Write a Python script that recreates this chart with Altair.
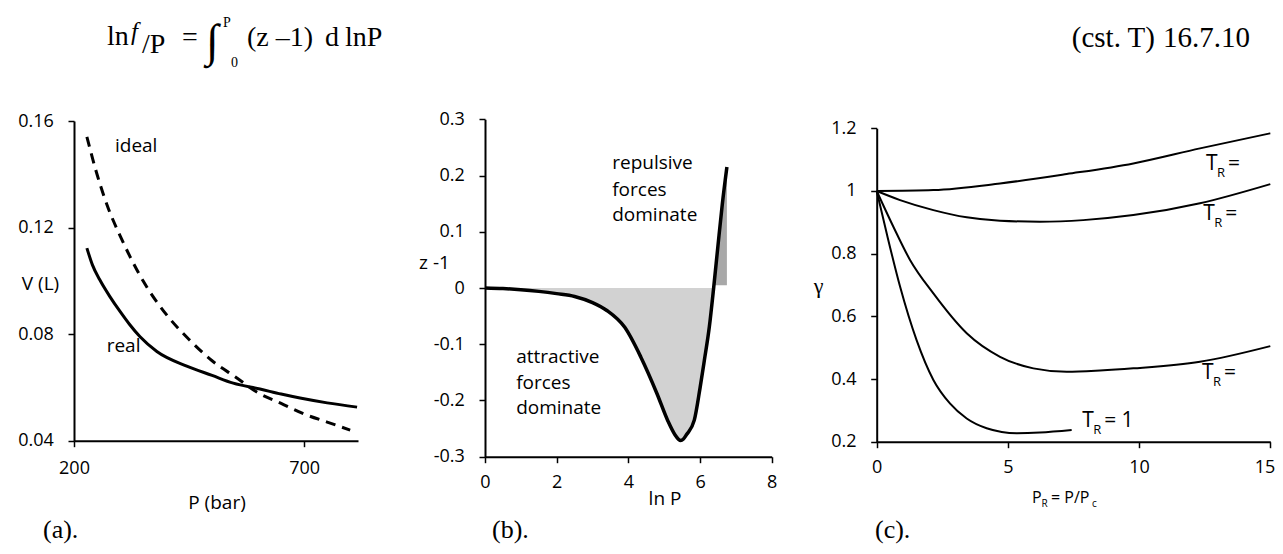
import altair as alt
import pandas as pd

# ---------------- data ----------------
# (a) V vs P
ideal_P = [228, 250, 275, 300, 350, 400, 450, 500, 550, 600, 650, 700, 750, 800]
ideal_V = [0.154, 0.140, 0.127, 0.117, 0.100, 0.0875, 0.078, 0.070, 0.064, 0.058, 0.054, 0.050, 0.047, 0.044]
real_P = [228, 240, 256, 278, 300, 320, 343, 380, 445, 500, 546, 604, 650, 691, 750, 815]
real_V = [0.1123, 0.106, 0.1004, 0.0941, 0.0885, 0.0838, 0.0791, 0.0735, 0.068, 0.0645,
          0.0616, 0.0594, 0.0575, 0.056, 0.0542, 0.0526]
lab_a_text = ["ideal", "real"]
lab_a_P = [289, 271]
lab_a_V = [0.1506, 0.0754]

# (b) z-1 vs ln P
lnP = [0, 0.5, 1.0, 1.5, 2.0, 2.5, 3.0, 3.4, 3.9, 4.35, 4.8, 5.1, 5.3, 5.4, 5.46, 5.53, 5.62, 5.84,
       6.0, 6.12, 6.26, 6.38, 6.5, 6.62, 6.75]
z_minus_1 = [0, -0.001, -0.003, -0.006, -0.010, -0.015, -0.026, -0.040, -0.070, -0.123,
             -0.188, -0.236, -0.261, -0.269, -0.271, -0.269, -0.261, -0.235, -0.178, -0.129,
             -0.069, 0.0, 0.075, 0.148, 0.215]
zero_cross = 6.38
lab_b_text = ["repulsive", "forces", "dominate", "attractive", "forces", "dominate"]
lab_b_x = [3.55, 3.55, 3.55, 0.87, 0.87, 0.87]
lab_b_y = [0.222, 0.174, 0.130, -0.123, -0.169, -0.214]

# (c) fugacity coefficient vs reduced pressure
c1_PR = [0, 2.16, 4.7, 7.24, 9.78, 12.32, 15]
c1_g = [1.0, 1.003, 1.024, 1.054, 1.088, 1.136, 1.184]
c2_PR = [0, 0.89, 2.16, 3.43, 4.7, 6.22, 7.87, 9.78, 12.32, 15]
c2_g = [1.0, 0.971, 0.939, 0.916, 0.905, 0.902, 0.907, 0.923, 0.961, 1.022]
c3_PR = [0, 0.635, 1.27, 2.16, 3.43, 4.7, 5.97, 7.24, 8.51, 9.78, 12.32, 15]
c3_g = [1.0, 0.886, 0.78, 0.673, 0.546, 0.471, 0.434, 0.423, 0.427, 0.434, 0.455, 0.505]
c4_PR = [0, 0.38, 0.89, 1.52, 2.16, 2.79, 3.43, 4.19, 5.34, 6.22, 7.43]
c4_g = [1.0, 0.865, 0.695, 0.524, 0.397, 0.322, 0.274, 0.243, 0.227, 0.229, 0.237]
tr_PR = [12.55, 12.44, 12.40, 7.83]
tr_g = [1.086, 0.925, 0.419, 0.266]
tr_rest = ["=", "=", "=", "= 1"]

# ---------------- tables ----------------
df_ideal = pd.DataFrame({"P": ideal_P, "V": ideal_V})
df_real = pd.DataFrame({"P": real_P, "V": real_V})
df_lab_a = pd.DataFrame({"P": lab_a_P, "V": lab_a_V, "label": lab_a_text})

df_b = pd.DataFrame({"lnP": lnP, "z1": z_minus_1})
df_b_neg = df_b[df_b["lnP"] <= zero_cross]
df_b_pos = df_b[df_b["lnP"] >= zero_cross]
df_lab_b = pd.DataFrame({"lnP": lab_b_x, "z1": lab_b_y, "label": lab_b_text})

rows = []
for sid, (xs, ys) in enumerate([(c1_PR, c1_g), (c2_PR, c2_g), (c3_PR, c3_g), (c4_PR, c4_g)]):
    for x, y in zip(xs, ys):
        rows.append({"PR": x, "gamma": y, "series": sid})
df_c = pd.DataFrame(rows)
df_tr = pd.DataFrame({"PR": tr_PR, "gamma": tr_g, "rest": tr_rest})

W, H = 1267, 538
FONT = "Open Sans"
SERIF = "Liberation Serif"

title_common = dict(titleAngle=0, titleAlign="center", titleBaseline="middle")

# ---------------- panel (a) ----------------
xa = alt.X("P:Q",
           scale=alt.Scale(domain=[200, 817], range=[66, 350], nice=False, zero=False),
           axis=alt.Axis(orient="bottom", offset=432.7 - H, values=[200, 700], format="d",
                         labelBaseline="middle", labelPadding=22,
                         title="P (bar)", titleX=208.5, titleY=61.3, **title_common))
ya = alt.Y("V:Q",
           scale=alt.Scale(domain=[0.04, 0.16], range=[432.7, 113], nice=False, zero=False),
           axis=alt.Axis(orient="left", offset=-66, values=[0.04, 0.08, 0.12, 0.16], format=".2f",
                         labelPadding=14.7,
                         title="V (L)", titleX=-34, titleY=275, **title_common))

a_ideal = alt.Chart(df_ideal).mark_line(color="black", strokeWidth=3, strokeDash=[10, 7],
                                         interpolate="monotone").encode(x=xa, y=ya)
a_real = alt.Chart(df_real).mark_line(color="black", strokeWidth=3,
                                       interpolate="monotone").encode(x=xa, y=ya)
a_lab = alt.Chart(df_lab_a).mark_text(align="left", baseline="middle", font=FONT, fontSize=19,
                                       color="black").encode(x=xa, y=ya, text="label:N")
panel_a = alt.layer(a_ideal, a_real, a_lab)

# ---------------- panel (b) ----------------
xb = alt.X("lnP:Q",
           scale=alt.Scale(domain=[0, 8], range=[477, 763.7], nice=False, zero=False),
           axis=alt.Axis(orient="bottom", offset=448.7 - H, values=[0, 2, 4, 6, 8], format="d",
                         labelBaseline="middle", labelPadding=20,
                         title="ln P", titleX=656.5, titleY=41.3, **title_common))
yb = alt.Y("z1:Q",
           scale=alt.Scale(domain=[-0.3, 0.3], range=[448.7, 111.3], nice=False, zero=False),
           axis=alt.Axis(orient="left", offset=-477,
                         values=[-0.3, -0.2, -0.1, 0, 0.1, 0.2, 0.3],
                         labelExpr="datum.value == 0 ? '0' : replace(format(datum.value, '.1f'), '\u2212', '-')",
                         labelPadding=14.7,
                         title="z -1", titleX=-51, titleY=254, **title_common))

b_neg = alt.Chart(df_b_neg).mark_area(color="#d2d2d2", interpolate="monotone").encode(
    x=xb, y=yb, y2=alt.datum(0))
b_pos = alt.Chart(df_b_pos).mark_area(color="#a8a8a8", interpolate="monotone").encode(
    x=xb, y=yb, y2=alt.datum(0.005))
b_line = alt.Chart(df_b).mark_line(color="black", strokeWidth=3.5, interpolate="monotone").encode(
    x=xb, y=yb)
b_lab = alt.Chart(df_lab_b).mark_text(align="left", baseline="middle", font=FONT, fontSize=19,
                                       color="black").encode(x=xb, y=yb, text="label:N")
panel_b = alt.layer(b_neg, b_pos, b_line, b_lab)

# ---------------- panel (c) ----------------
xc = alt.X("PR:Q",
           scale=alt.Scale(domain=[0, 15], range=[868.7, 1262.3], nice=False, zero=False),
           axis=alt.Axis(orient="bottom", offset=433.7 - H, values=[0, 5, 10, 15], format="d",
                         labelBaseline="middle", labelPadding=20, title=None,
                         labelAlign={"condition": {"test": "datum.value == 15", "value": "right"},
                                     "value": "center"},
                         labelOffset={"condition": {"test": "datum.value == 15", "value": 4.5},
                                      "value": 0}))
yc = alt.Y("gamma:Q",
           scale=alt.Scale(domain=[0.2, 1.2], range=[433.7, 120.3], nice=False, zero=False),
           axis=alt.Axis(orient="left", offset=-868.7, values=[0.2, 0.4, 0.6, 0.8, 1.0, 1.2],
                         format=".2~f", labelPadding=14.7,
                         title="\u03b3", titleX=-58.7, titleY=277, titleFont=SERIF,
                         titleFontSize=22, **title_common))

c_lines = alt.Chart(df_c).mark_line(color="black", strokeWidth=2, interpolate="monotone").encode(
    x=xc, y=yc, detail="series:N")
c_T = alt.Chart(df_tr).mark_text(align="left", baseline="middle", font=FONT, fontSize=21,
                                  color="black", text="T").encode(x=xc, y=yc)
c_R = alt.Chart(df_tr).mark_text(align="left", baseline="middle", font=FONT, fontSize=13,
                                  color="black", text="R", dx=11, dy=9).encode(x=xc, y=yc)
c_rest = alt.Chart(df_tr).mark_text(align="left", baseline="middle", font=FONT, fontSize=21,
                                     color="black", dx=22).encode(x=xc, y=yc, text="rest:N")
panel_c = alt.layer(c_lines, c_T, c_R, c_rest)

# ---------------- decorations: formula, panel letters, x title of (c) ----------------
one = pd.DataFrame({"k": [0]})


def txt(s, x, y, size, font=SERIF, align="left", baseline="alphabetic", style="normal"):
    return alt.Chart(one).mark_text(text=s, align=align, baseline=baseline, font=font,
                                    fontSize=size, fontStyle=style, color="black").encode(
        x=alt.value(x), y=alt.value(y))


decor = [
    txt("ln", 99, 37, 28),
    txt("f", 123, 32, 25, style="italic"),
    txt("/P", 134, 45, 28),
    txt("=", 174, 38, 28),
    txt("\u222b", 198, 48, 46),
    txt("P", 215, 19, 14),
    txt("0", 223, 59, 14),
    txt("(z \u20131)", 239, 38, 28),
    txt("d", 317, 38, 28),
    txt("lnP", 337, 38, 28),
    txt("(cst. T)", 1147, 39, 29, align="right"),
    txt("16.7.10", 1155, 39, 29),
    txt("(a).", 35, 530, 26),
    txt("(b).", 484, 530, 26),
    txt("(c).", 867, 530, 26),
    txt("P", 1024, 490, 16, font=FONT, baseline="middle"),
    txt("R", 1033.5, 496, 10, font=FONT, baseline="middle"),
    txt("= P/P", 1043, 490, 16, font=FONT, baseline="middle"),
    txt("c", 1084, 496, 10, font=FONT, baseline="middle"),
]

chart = alt.layer(panel_a, panel_b, panel_c, *decor).resolve_scale(
    x="independent", y="independent"
).properties(
    width=W, height=H, autosize=alt.AutoSizeParams(type="none"), padding=0
).configure_view(stroke=None).configure_axis(
    grid=False, domainColor="black", domainWidth=2, tickColor="black", tickWidth=1.5,
    tickSize=6, labelFont=FONT, labelFontSize=18, labelColor="black", titleFont=FONT,
    titleFontSize=19, titleFontWeight="normal", titleColor="black", labelFlush=False
)

chart.save("out.html", embed_options={"renderer": "svg", "actions": False})
